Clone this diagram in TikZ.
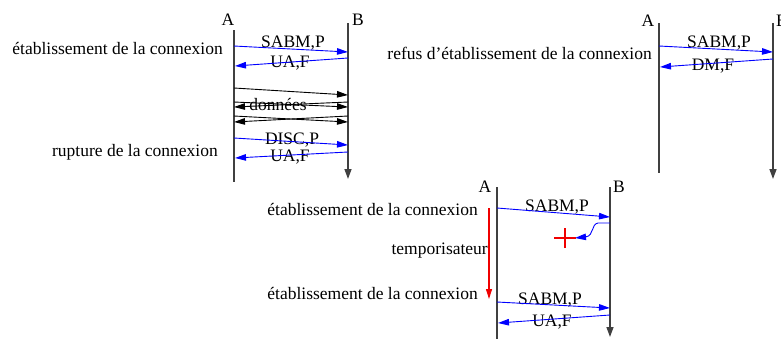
\documentclass[tikz,border=0pt]{standalone}
\usepackage{fontspec}
\setmainfont{Liberation Serif}
\usetikzlibrary{arrows.meta}
\definecolor{lifegray}{RGB}{64,64,64}
\definecolor{msgblue}{RGB}{0,0,255}
\definecolor{timered}{RGB}{240,0,0}
\newcommand\dgfont{\fontsize{17.5}{20}\selectfont}
\begin{document}
\begin{tikzpicture}[x=1pt,y=-1pt,
  life/.style={draw=lifegray, line width=1.4pt},
  lifeend/.style={life, -{Triangle[length=10pt,width=7pt]}},
  msg/.style={draw=msgblue, line width=0.9pt, -{Triangle[length=11pt,width=6.5pt]}},
  dat/.style={draw=black, line width=0.9pt, -{Triangle[length=11pt,width=6.5pt]}},
  lbl/.style={font=\dgfont, inner sep=0pt},
  side/.style={lbl, anchor=east},
  cross/.style={draw=timered, line width=1.8pt}]
\useasboundingbox (0,0) rectangle (781,338);

% ---------------- diagram 1 ----------------
\coordinate (A1t) at (234,30); \coordinate (A1b) at (234,182);
\coordinate (B1t) at (348,23); \coordinate (B1b) at (348,179);
\draw[life] (A1t) -- (A1b);
\draw[lifeend] (B1t) -- (B1b);
\node[lbl] (A1) at (228,20) {A};
\node[lbl] (B1) at (358,20) {B};
\node[side] (t1) at (223,48) {établissement de la connexion};
\node[side] (t2) at (218,152) {rupture de la connexion};

\coordinate (p1) at (234,46);  \coordinate (q1) at (348,52);
\coordinate (p2) at (348,58);  \coordinate (q2) at (235,66);
\coordinate (p3) at (234,88);  \coordinate (q3) at (348,95);
\coordinate (p4) at (234,102); \coordinate (q4) at (348,107);
\coordinate (p5) at (348,102); \coordinate (q5) at (234,107);
\coordinate (p6) at (234,116); \coordinate (q6) at (348,122);
\coordinate (p7) at (348,116); \coordinate (q7) at (234,122);
\coordinate (p8) at (234,138); \coordinate (q8) at (348,145);
\coordinate (p9) at (348,152); \coordinate (q9) at (235,158);

\node[lbl] (l1) at (293,43) {SABM,P};
\node[lbl] (l2) at (290,63) {UA,F};
\node[lbl] (l3) at (278,104) {données};
\node[lbl] (l4) at (292,140) {DISC,P};
\node[lbl] (l5) at (290,157) {UA,F};

\draw[msg] (p1) -- (q1);
\draw[msg] (p2) -- (q2);
\draw[dat] (p3) -- (q3);
\draw[dat] (p4) -- (q4);
\draw[dat] (p5) -- (q5);
\draw[dat] (p6) -- (q6);
\draw[dat] (p7) -- (q7);
\draw[msg] (p8) -- (q8);
\draw[msg] (p9) -- (q9);

% ---------------- diagram 2 ----------------
\coordinate (A2t) at (659,23); \coordinate (A2b) at (659,173);
\coordinate (B2t) at (773,23); \coordinate (B2b) at (773,179);
\draw[life] (A2t) -- (A2b);
\draw[lifeend] (B2t) -- (B2b);
\node[lbl] (A2) at (648,21) {A};
\node[lbl, anchor=west] (B2) at (776,21) {B};
\node[side] (t3) at (652,53) {refus d’établissement de la connexion};

\coordinate (r1) at (659,46); \coordinate (s1) at (773,52);
\coordinate (r2) at (773,59); \coordinate (s2) at (660,67);
\node[lbl] (l6) at (719,43) {SABM,P};
\node[lbl] (l7) at (713,66) {DM,F};
\draw[msg] (r1) -- (s1);
\draw[msg] (r2) -- (s2);

% ---------------- diagram 3 ----------------
\coordinate (A3t) at (497,187); \coordinate (A3b) at (497,340);
\coordinate (B3t) at (610,187); \coordinate (B3b) at (610,337);
\draw[life] (A3t) -- (A3b);
\draw[lifeend] (B3t) -- (B3b);
\node[lbl] (A3) at (485,187) {A};
\node[lbl] (B3) at (619,187) {B};
\node[side] (t4) at (478,209) {établissement de la connexion};
\node[side] (t5) at (488,251) {temporisateur};
\node[side] (t6) at (478,293) {établissement de la connexion};

\coordinate (T1) at (489,208); \coordinate (T2) at (489,299);
\draw[draw=timered, line width=1.1pt, -{Triangle[length=10pt,width=6pt]}] (T1) -- (T2);

\coordinate (u1) at (497,208); \coordinate (v1) at (610,217);
\coordinate (u2) at (610,223); \coordinate (v2) at (575,238);
\coordinate (u3) at (497,302); \coordinate (v3) at (610,308);
\coordinate (u4) at (610,315); \coordinate (v4) at (498,323);
\node[lbl] (l8) at (557,207) {SABM,P};
\node[lbl] (l9) at (550,300) {SABM,P};
\node[lbl] (l10) at (552,322) {UA,F};
\draw[msg] (u1) -- (v1);
\draw[msg] (u2) -- (598,223) .. controls (591,224) and (594,236) .. (v2);
\draw[msg] (u3) -- (v3);
\draw[msg] (u4) -- (v4);

\coordinate (X) at (565,238);
\draw[cross] ([xshift=-11pt]X) -- ([xshift=11pt]X);
\draw[cross] ([yshift=-10pt]X) -- ([yshift=10pt]X);
\end{tikzpicture}
\end{document}
